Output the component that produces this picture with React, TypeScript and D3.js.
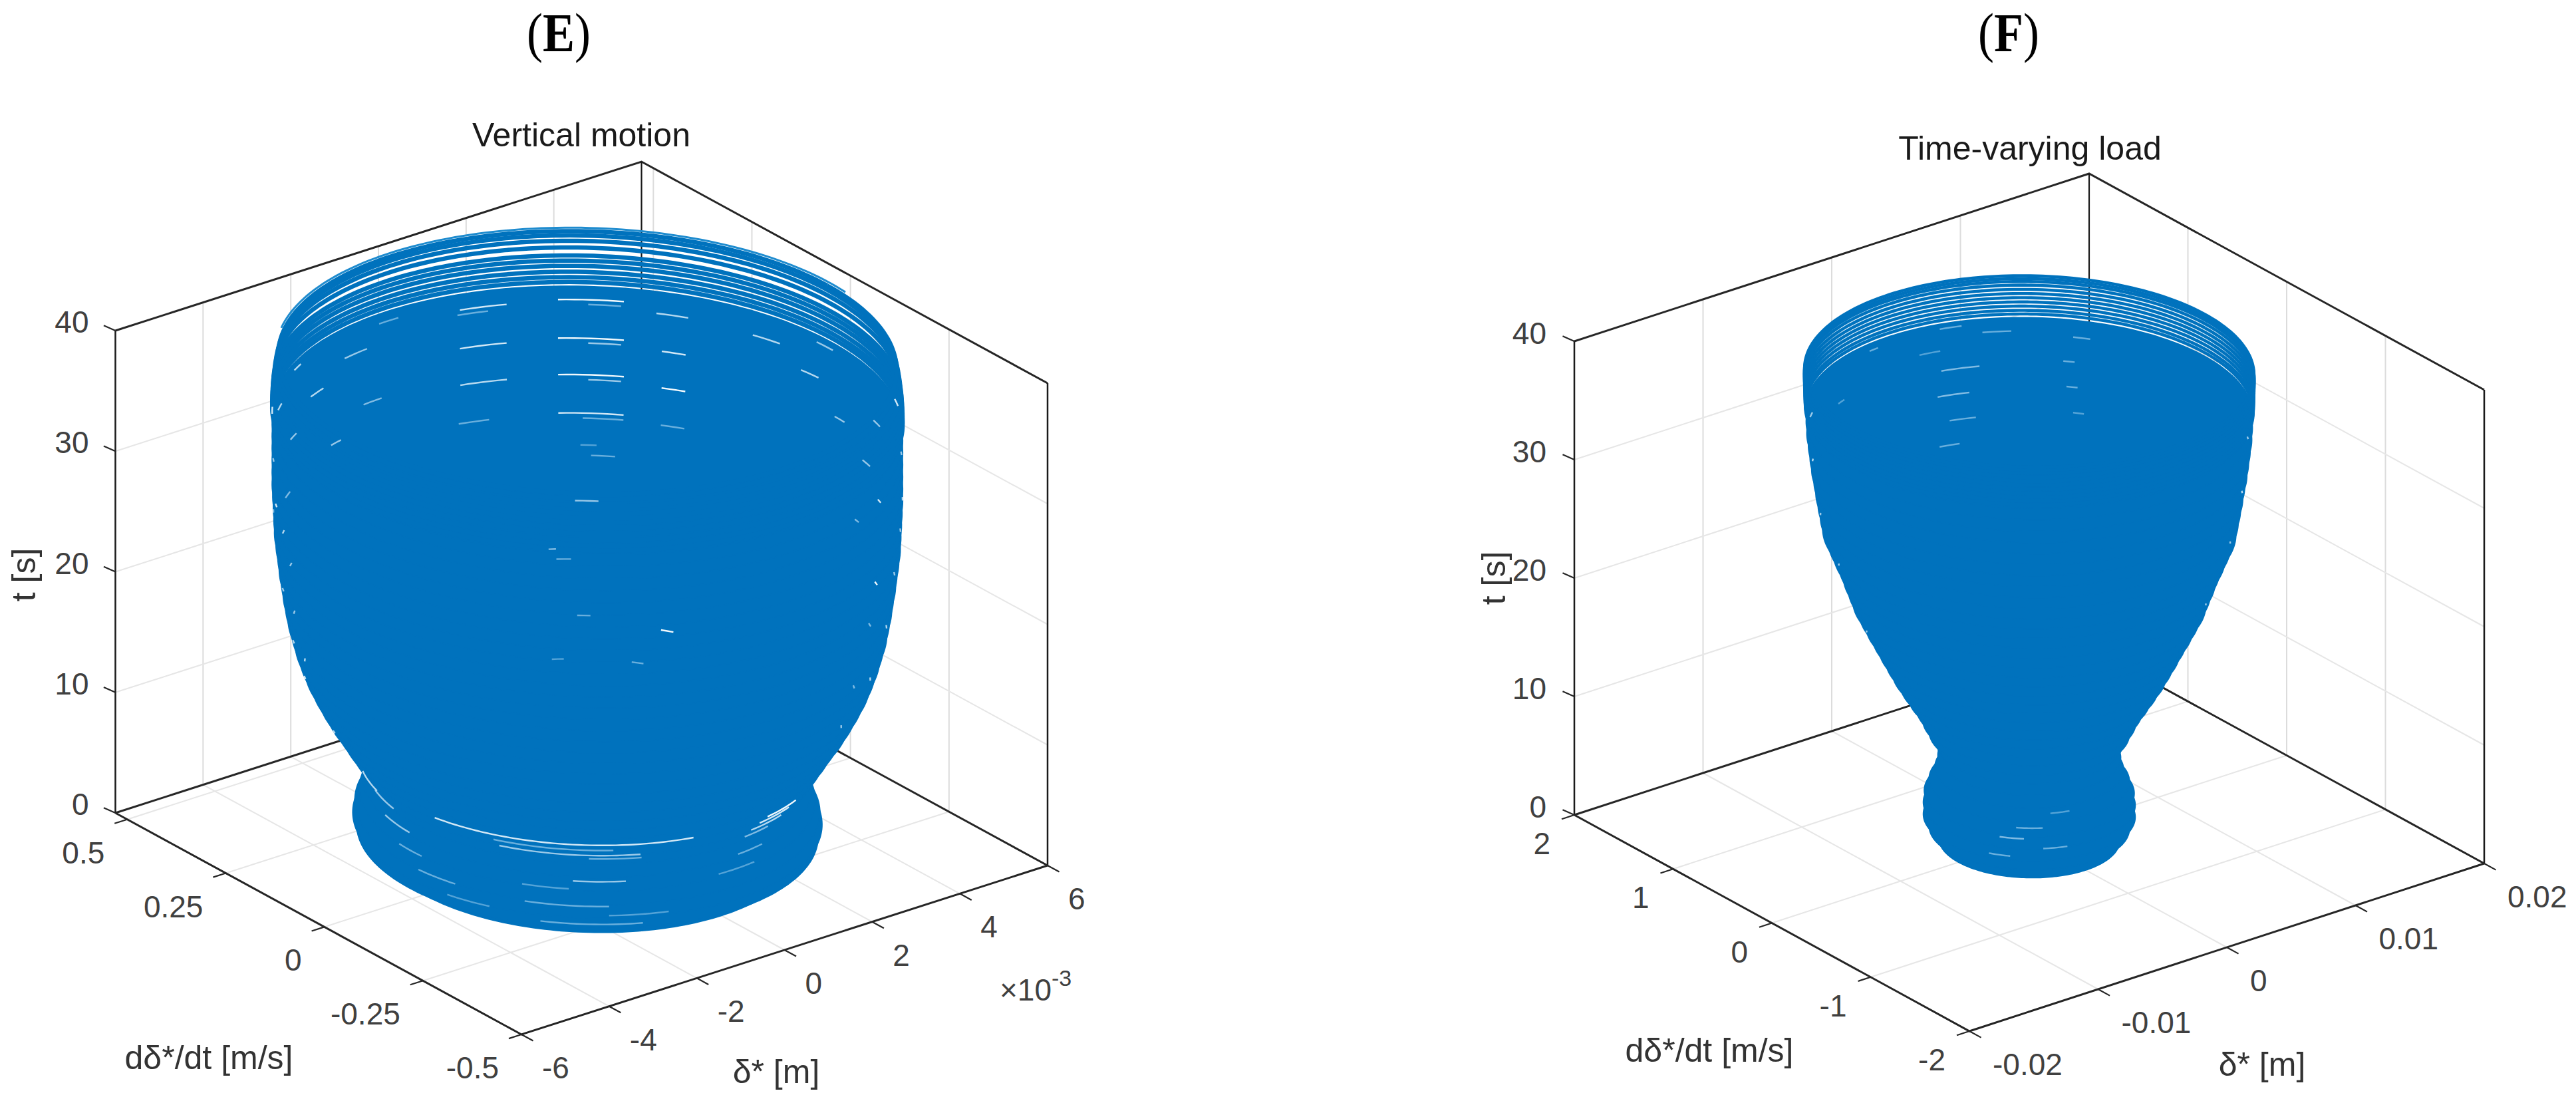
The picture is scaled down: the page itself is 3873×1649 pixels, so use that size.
import * as d3 from "d3";

const BLUE = "#0072bd";
const AXIS = "#262626";
const TEXT = "#404040";
const GRID_WALL = "#dcdcdc";
const GRID_FLOOR = "#e6e6e6";

const timeSteps = d3.range(0, 41);
const deltaAmpE = [3.72, 4.07, 4.14, 4.1, 4.02, 3.96, 3.89, 4.04, 4.19, 4.34, 4.48, 4.63, 4.76, 4.88, 4.99, 5.08, 5.16, 5.22, 5.28, 5.33, 5.37, 5.4, 5.44, 5.46, 5.49, 5.52, 5.53, 5.54, 5.55, 5.56, 5.56, 5.56, 5.56, 5.56, 5.56, 5.56, 5.56, 5.55, 5.53, 5.5, 5.46];
const velAmpE = [0.34, 0.371, 0.377, 0.374, 0.366, 0.361, 0.355, 0.369, 0.382, 0.395, 0.408, 0.422, 0.434, 0.445, 0.455, 0.463, 0.47, 0.476, 0.482, 0.485, 0.489, 0.492, 0.495, 0.498, 0.501, 0.503, 0.504, 0.505, 0.506, 0.507, 0.507, 0.507, 0.507, 0.507, 0.507, 0.507, 0.507, 0.506, 0.504, 0.5, 0.494];
const deltaAmpF = [5.49, 6.08, 6.43, 6.43, 6.37, 6.08, 5.72, 5.55, 5.61, 6.08, 6.47, 6.86, 7.35, 7.84, 8.31, 8.72, 9.13, 9.53, 9.94, 10.33, 10.72, 11.0, 11.29, 11.56, 11.9, 12.21, 12.54, 12.68, 12.82, 12.96, 13.07, 13.21, 13.31, 13.41, 13.5, 13.54, 13.58, 13.62, 13.64, 13.66, 13.62];
const velAmpF = [0.571, 0.632, 0.669, 0.669, 0.663, 0.632, 0.596, 0.577, 0.583, 0.632, 0.673, 0.714, 0.765, 0.816, 0.865, 0.908, 0.951, 0.991, 1.034, 1.075, 1.116, 1.144, 1.175, 1.204, 1.238, 1.271, 1.306, 1.32, 1.334, 1.348, 1.361, 1.375, 1.385, 1.395, 1.406, 1.41, 1.414, 1.418, 1.42, 1.422, 1.418];

// last turns at the top of the dome, where single loops can be told apart
const topTurnsE = [35.35, 35.75, 36.2, 36.7, 37.15, 37.6, 38.3, 38.9, 39.4, 39.8];
const topTurnsF = [36.3, 36.6, 36.95, 37.3, 37.65, 38.0, 38.35, 38.7, 39.0, 39.25, 39.5];

// holes in the tangle: [t, angle on the loop in deg, span in deg, brightness]
const gapsE = [
  [33.9, 50, 12, 1], [33.5, 48, 7, 0.5], [30.7, 50, 12, 1], [30.3, 48, 7, 0.7], [27.7, 50, 12, 1], [27.3, 48, 7, 0.7], [24.6, 50, 12, 0.9], [24.2, 48, 8, 0.5],
  [33.7, 70, 9, 0.9], [33.3, 72, 6, 0.5], [30.5, 70, 9, 0.9], [27.5, 70, 9, 0.8], [24.4, 72, 6, 0.5], [33.2, 35, 6, 0.8], [30.1, 35, 5, 0.9], [27.1, 35, 5, 1], [24.1, 35, 5, 0.5],
  [22.1, 51, 4, 0.4], [21.3, 48, 5, 0.5], [17.8, 51, 5, 0.7], [14.3, 58, 2, 0.6], [13.6, 56, 4, 0.5], [9.9, 52, 4, 0.5], [9.4, 32, 3, 1], [7.1, 58, 3, 0.4], [7.1, 38, 3, 0.5],
  [32.5, 98, 6, 0.7], [31, 110, 5, 0.8], [29, 120, 4, 0.7], [28, 94, 5, 0.6], [26, 104, 3, 0.7], [25, 124, 3, 0.6], [23, 130, 2, 0.8], [20, 128, 2, 0.7], [17, 133, 2, 0.7], [14, 138, 2, 0.8],
  [33, 16, 6, 0.8], [31.5, 6, 5, 0.8], [29, -2, 4, 0.7], [27, -12, 3, 0.7], [25, -18, 2, 0.9], [22, -10, 2, 0.6], [19, -22, 2, 1], [16, -24, 2, 0.6], [12, -30, 2, 0.6],
  [34.4, 118, 4, 0.8], [34.2, 90, 5, 0.5], [34.4, 2, 5, 0.7], [33, 128, 3, 0.8], [31, -16, 3, 0.7], [35, 140, 3, 0.9], [32, 146, 2, 0.7], [29, 150, 2, 0.9], [27, 142, 2, 0.6], [35, -28, 3, 0.9], [32, -34, 2, 0.7], [29, -38, 2, 0.8], [26, -36, 2, 0.7],
  [22, 150, 2, 0.7], [18, 152, 2, 0.8], [15, 152, 2, 0.9], [11, 156, 2, 0.8], [22, -34, 2, 0.7], [18, -36, 2, 0.8], [14, -38, 2, 0.8], [10, -38, 2, 0.7],
  [8.2, 224, 66, 0.9], [7.6, 222, 30, 0.5], [7.0, 226, 36, 0.7], [6.6, 238, 14, 0.5], [4.7, 234, 14, 0.7], [4.1, 220, 12, 0.4], [2.9, 226, 22, 0.5], [2.2, 244, 16, 0.4], [1.4, 232, 26, 0.5],
  [8, 286, 12, 1], [7.6, 284, 12, 0.9], [7.1, 282, 12, 0.8], [6.5, 280, 10, 0.6], [5.2, 278, 10, 0.5], [4.2, 272, 12, 0.4],
  [7, 158, 12, 0.8], [6.2, 164, 12, 0.7], [5.2, 172, 12, 0.7], [4, 180, 10, 0.5], [3, 190, 12, 0.5], [2, 200, 12, 0.4],
];
const gapsF = [
  [35.6, 72, 6, 0.5], [34.9, 60, 8, 0.5], [33.8, 78, 6, 0.4], [32.2, 70, 11, 0.6], [30.2, 72, 9, 0.6], [28.2, 70, 8, 0.5], [26.3, 74, 6, 0.5],
  [34.6, 38, 5, 0.5], [32.6, 41, 3, 0.5], [30.6, 40, 3, 0.5], [28.6, 38, 3, 0.4], [35.4, 96, 4, 0.5], [32.6, 110, 3, 0.4], [34, 130, 3, 0.7], [31, 136, 2, 0.8], [27, 140, 2, 0.7], [23, 142, 2, 0.7], [18, 148, 2, 0.7], [33, -30, 2, 0.7], [29, -34, 2, 0.8], [25, -36, 2, 0.7], [20, -38, 2, 0.7],
  [4.6, 232, 16, 0.5], [3.8, 222, 14, 0.6], [3, 246, 14, 0.5], [2.3, 215, 12, 0.5], [5.6, 250, 12, 0.4],
];

const ticksDeltaE = [-6, -4, -2, 0, 2, 4, 6];
const tickLabelsDeltaE = ["-6", "-4", "-2", "0", "2", "4", "6"];
const ticksVelE = [-0.5, -0.25, 0, 0.25, 0.5];
const tickLabelsVelE = ["-0.5", "-0.25", "0", "0.25", "0.5"];
const ticksDeltaF = [-20, -10, 0, 10, 20];
const tickLabelsDeltaF = ["-0.02", "-0.01", "0", "0.01", "0.02"];
const ticksVelF = [-2, -1, 0, 1, 2];
const tickLabelsVelF = ["-2", "-1", "0", "1", "2"];
const ticksTime = [0, 10, 20, 30, 40];

const panels = [
  {
    letter: "E", title: "Vertical motion", titleX: 874, titleY: 220, titleSize: 50, letterX: 840,
    front: [784, 1555], left: [173.5, 1222], right: [1575, 1301], height: 725,
    deltaDomain: [-6, 6], velDomain: [-0.5, 0.53],
    ticksDelta: ticksDeltaE, tickLabelsDelta: tickLabelsDeltaE, ticksVel: ticksVelE, tickLabelsVel: tickLabelsVelE,
    deltaAmp: deltaAmpE, velAmp: velAmpE, topTurns: topTurnsE, gaps: gapsE,
    fillUntil: 35, turnWidth: 6.5, tail: { t: 40, scale: 1.01, from: -5, to: 130 },
    tOffset: [-40, -13], velOffset: [-34, 50], deltaOffset: [31, 50],
    xLabel: { x: 1167, y: 1628 }, yLabel: { x: 314, y: 1607 }, tLabel: { x: 53, y: 864 },
    exponent: { x: 1503, y: 1504 },
  },
  {
    letter: "F", title: "Time-varying load", titleX: 3052, titleY: 240, titleSize: 50, letterX: 3020,
    front: [2961, 1550], left: [2367, 1225], right: [3735, 1298], height: 712,
    deltaDomain: [-20, 20], velDomain: [-2, 2],
    ticksDelta: ticksDeltaF, tickLabelsDelta: tickLabelsDeltaF, ticksVel: ticksVelF, tickLabelsVel: tickLabelsVelF,
    deltaAmp: deltaAmpF, velAmp: velAmpF, topTurns: topTurnsF, gaps: gapsF,
    fillUntil: 36, turnWidth: 4.6, tail: null,
    tOffset: [-42, -12], velOffset: [-36, 43], deltaOffset: [35, 50],
    xLabel: { x: 3401, y: 1617 }, yLabel: { x: 2570, y: 1596 }, tLabel: { x: 2263, y: 869 },
    exponent: null,
  },
];

const linePath = d3.line<number[]>().x(d => d[0]).y(d => d[1]);

function Panel({ p }: { p: typeof panels[number] }) {
  // oblique projection of the MATLAB box, one scale per screen component
  const dv = [p.right[0] - p.front[0], p.right[1] - p.front[1]];
  const vv = [p.left[0] - p.front[0], p.left[1] - p.front[1]];
  const fx = d3.scaleLinear().domain(p.deltaDomain).range([0, 1]);
  const fy = d3.scaleLinear().domain(p.velDomain).range([0, 1]);
  const fz = d3.scaleLinear().domain([0, 40]).range([0, p.height]);
  const project = (d: number, v: number, t: number) => [
    p.front[0] + fx(d) * dv[0] + fy(v) * vv[0],
    p.front[1] + fx(d) * dv[1] + fy(v) * vv[1] - fz(t),
  ];
  const [d0, d1] = p.deltaDomain;
  const [v0, v1] = p.velDomain;
  const seg = (a: number[], b: number[]) => linePath([a, b]) as string;

  const ampD = d3.scaleLinear().domain(timeSteps).range(p.deltaAmp).clamp(true);
  const ampV = d3.scaleLinear().domain(timeSteps).range(p.velAmp).clamp(true);
  const loopPoint = (t: number, deg: number, k = 1) => {
    const r = (deg * Math.PI) / 180;
    return project(ampD(t) * k * Math.cos(r), ampV(t) * k * Math.sin(r), t);
  };
  const arc = (t: number, from: number, to: number, k = 1) =>
    linePath(d3.range(from, to + 0.5, 1.5).map(a => loopPoint(t, a, k))) as string;

  const unitD = Math.hypot(dv[0], dv[1]);
  const unitV = Math.hypot(vv[0], vv[1]);
  const tickLen = 20;
  const gridWalls: string[] = [];
  const gridFloor: string[] = [];
  p.ticksDelta.filter(d => d !== d0 && d !== d1).forEach(d => {
    gridWalls.push(seg(project(d, v1, 0), project(d, v1, 40)));
    gridFloor.push(seg(project(d, v0, 0), project(d, v1, 0)));
  });
  p.ticksVel.filter(v => v !== v0 && v !== v1).forEach(v => {
    gridWalls.push(seg(project(d1, v, 0), project(d1, v, 40)));
    gridFloor.push(seg(project(d0, v, 0), project(d1, v, 0)));
  });
  const gridTime = ticksTime.slice(1, 4).map(t =>
    linePath([project(d0, v1, t), project(d1, v1, t), project(d1, v0, t)]) as string);

  return (
    <g>
      {/* the panel letters are taller than the font's own proportions */}
      <text transform={`translate(${p.letterX},77) scale(1,1.15)`} textAnchor="middle" fontFamily="Liberation Serif" fontSize={72} fill="#000">
        (<tspan fontWeight="bold">{p.letter}</tspan>)
      </text>
      <text x={p.titleX} y={p.titleY} textAnchor="middle" fontSize={p.titleSize} fill="#1a1a1a">{p.title}</text>

      {gridFloor.map((d, i) => <path key={i} d={d} fill="none" stroke={GRID_FLOOR} strokeWidth={2} />)}
      {gridWalls.map((d, i) => <path key={i} d={d} fill="none" stroke={GRID_WALL} strokeWidth={2} />)}
      {gridTime.map((d, i) => <path key={i} d={d} fill="none" stroke={GRID_FLOOR} strokeWidth={2} />)}

      {/* back of the box, behind the trajectory */}
      <path d={linePath([project(d0, v1, 40), project(d1, v1, 40), project(d1, v0, 40)]) as string} fill="none" stroke={AXIS} strokeWidth={3} />
      <path d={seg(project(d1, v1, 0), project(d1, v1, 40))} stroke="#1a1a1a" strokeWidth={2.2} />
      <path d={seg(project(d0, v1, 0), project(d0, v1, 40))} stroke="#1a1a1a" strokeWidth={2.5} />
      <path d={seg(project(d1, v0, 0), project(d1, v0, 40))} stroke="#1a1a1a" strokeWidth={2.5} />
      <path d={linePath([project(d0, v1, 0), project(d1, v1, 0), project(d1, v0, 0)]) as string} fill="none" stroke={AXIS} strokeWidth={3} />

      {/* trajectory: solid loops, then the separate last turns */}
      {timeSteps.filter(t => t <= p.fillUntil).map(t => (
        <path key={t} d={arc(t, 0, 360) + "Z"} fill={BLUE} stroke={BLUE} strokeWidth={2} />
      ))}
      {p.topTurns.map(t => (
        <path key={t} d={arc(t, 0, 360)} fill="none" stroke={BLUE} strokeWidth={p.turnWidth} />
      ))}
      {p.tail && (
        <path d={arc(p.tail.t, p.tail.from, p.tail.to, p.tail.scale)} fill="none" stroke="#1f8ccf" strokeWidth={3} />
      )}
      {p.gaps.map(([t, c, span, b], i) => (
        <path key={i} d={arc(t, c - span / 2, c + span / 2)} fill="none"
          stroke={d3.interpolateRgb("#2f93d4", "#f2f9fd")(b)} strokeWidth={2.4} opacity={0.45 + b * 0.55} />
      ))}

      {/* front edges, ticks */}
      <path d={linePath([project(d0, v1, 0), project(d0, v0, 0), project(d1, v0, 0)]) as string} fill="none" stroke={AXIS} strokeWidth={3} />
      {ticksTime.map(t => {
        const a = project(d0, v1, t);
        return <path key={t} d={seg(a, [a[0] + (vv[0] / unitV) * tickLen, a[1] + (vv[1] / unitV) * tickLen * 0.8])} stroke={AXIS} strokeWidth={2.2} />;
      })}
      {p.ticksDelta.map(d => {
        const a = project(d, v0, 0);
        return <path key={d} d={seg(a, [a[0] - (vv[0] / unitV) * tickLen, a[1] - (vv[1] / unitV) * tickLen])} stroke={AXIS} strokeWidth={2.2} />;
      })}
      {p.ticksVel.map(v => {
        const a = project(d0, v, 0);
        return <path key={v} d={seg(a, [a[0] - (dv[0] / unitD) * tickLen, a[1] - (dv[1] / unitD) * tickLen])} stroke={AXIS} strokeWidth={2.2} />;
      })}

      {/* tick labels */}
      <g fontSize={46} fill={TEXT}>
        {ticksTime.map(t => {
          const a = project(d0, v1, t);
          return <text key={t} x={a[0] + p.tOffset[0]} y={a[1] + p.tOffset[1]} dy="0.35em" textAnchor="end">{t}</text>;
        })}
        {p.ticksVel.map((v, i) => {
          const a = project(d0, v, 0);
          return <text key={v} x={a[0] + p.velOffset[0]} y={a[1] + p.velOffset[1]} dy="0.35em" textAnchor="end">{p.tickLabelsVel[i]}</text>;
        })}
        {p.ticksDelta.map((d, i) => {
          const a = project(d, v0, 0);
          return <text key={d} x={a[0] + p.deltaOffset[0]} y={a[1] + p.deltaOffset[1]} dy="0.35em" textAnchor="start">{p.tickLabelsDelta[i]}</text>;
        })}
      </g>
      {p.exponent && (
        <text x={p.exponent.x} y={p.exponent.y} fontSize={46} fill={TEXT}>
          ×10<tspan fontSize={34} dy={-22}>-3</tspan>
        </text>
      )}

      <g fontSize={50} fill="#333" textAnchor="middle">
        <text x={p.xLabel.x} y={p.xLabel.y}>δ* [m]</text>
        <text x={p.yLabel.x} y={p.yLabel.y}>dδ*/dt [m/s]</text>
        <text transform={`translate(${p.tLabel.x},${p.tLabel.y}) rotate(-90)`}>t [s]</text>
      </g>
    </g>
  );
}

export default function App() {
  return (
    <svg width={3873} height={1649} viewBox="0 0 3873 1649"
      style={{ position: "absolute", left: 0, top: 0, display: "block", background: "#fff" }}
      fontFamily="Liberation Sans, Arial, sans-serif">
      {panels.map(p => <Panel key={p.letter} p={p} />)}
    </svg>
  );
}
